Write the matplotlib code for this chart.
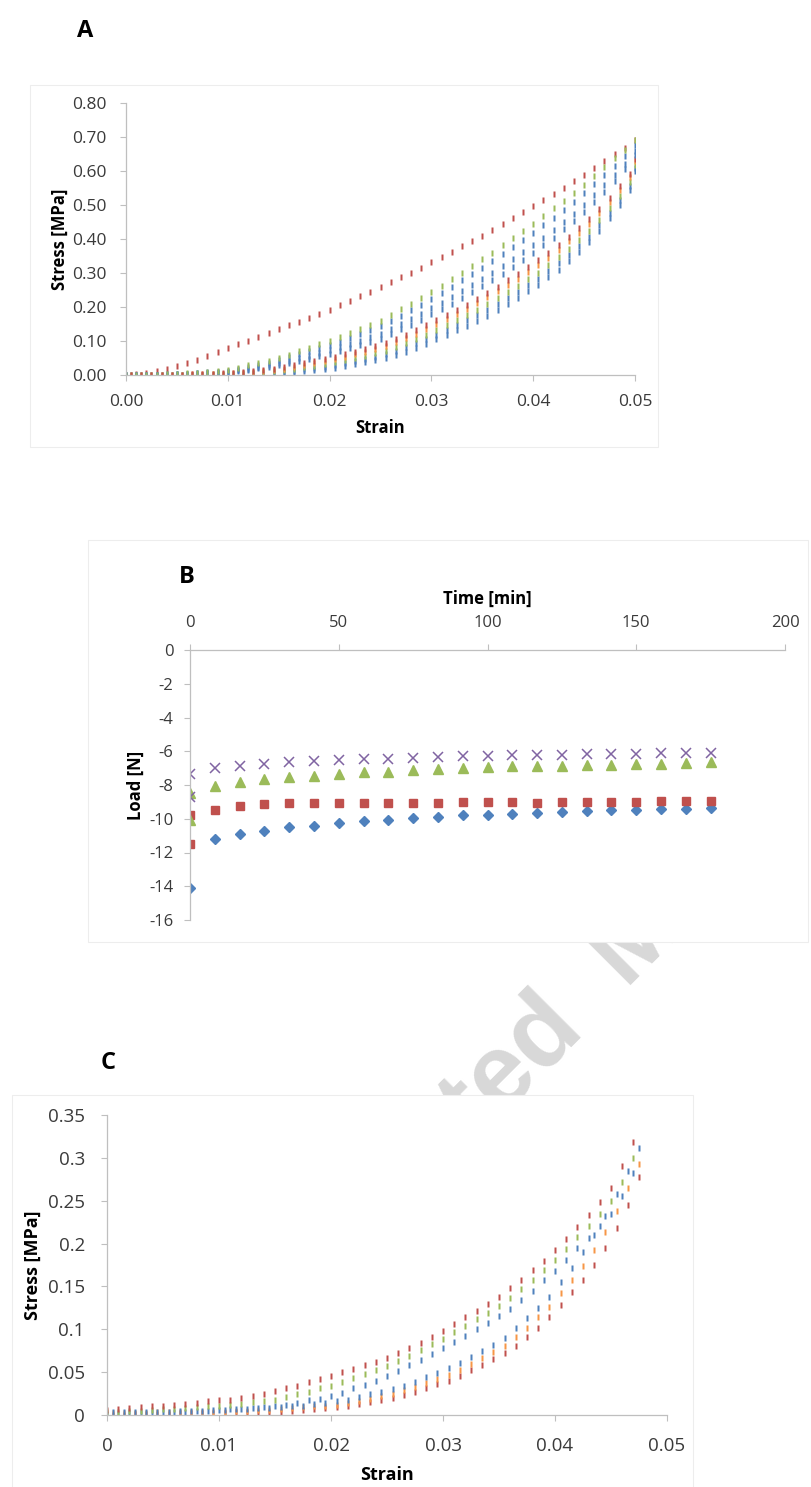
import matplotlib
matplotlib.use("Agg")
import matplotlib.pyplot as plt
from matplotlib.patches import Rectangle
from matplotlib.transforms import Bbox, TransformedBbox

plt.rcParams['font.family'] = ['Open Sans', 'DejaVu Sans']
plt.rcParams['axes.unicode_minus'] = False

BLUE = '#4F81BD'
RED = '#C0504D'
GREEN = '#9BBB59'
PURPLE = '#8064A2'
ORANGE = '#F79646'

# ---------------- panel A: cyclic stress-strain ----------------
strain_a = [0.000, 0.001, 0.002, 0.003, 0.004, 0.005, 0.006, 0.007, 0.008, 0.009,
            0.010, 0.011, 0.012, 0.013, 0.014, 0.015, 0.016, 0.017, 0.018, 0.019,
            0.020, 0.021, 0.022, 0.023, 0.024, 0.025, 0.026, 0.027, 0.028, 0.029,
            0.030, 0.031, 0.032, 0.033, 0.034, 0.035, 0.036, 0.037, 0.038, 0.039,
            0.040, 0.041, 0.042, 0.043, 0.044, 0.045, 0.046, 0.047, 0.048, 0.049, 0.050]
strain_a_unload = [0.0005, 0.0015, 0.0025, 0.0035, 0.0045, 0.0055, 0.0065, 0.0075, 0.0085, 0.0095,
                   0.0105, 0.0115, 0.0125, 0.0135, 0.0145, 0.0155, 0.0165, 0.0175, 0.0185, 0.0195,
                   0.0205, 0.0215, 0.0225, 0.0235, 0.0245, 0.0255, 0.0265, 0.0275, 0.0285, 0.0295,
                   0.0305, 0.0315, 0.0325, 0.0335, 0.0345, 0.0355, 0.0365, 0.0375, 0.0385, 0.0395,
                   0.0405, 0.0415, 0.0425, 0.0435, 0.0445, 0.0455, 0.0465, 0.0475, 0.0485, 0.0495, 0.0500]

a_first_load = [0.000, 0.003, 0.007, 0.012, 0.018, 0.026, 0.035, 0.045, 0.056, 0.067,
                0.079, 0.090, 0.101, 0.112, 0.123, 0.135, 0.146, 0.157, 0.168, 0.180,
                0.192, 0.205, 0.218, 0.231, 0.245, 0.259, 0.273, 0.287, 0.301, 0.316,
                0.331, 0.346, 0.362, 0.378, 0.394, 0.410, 0.427, 0.444, 0.461, 0.479,
                0.497, 0.515, 0.533, 0.551, 0.570, 0.589, 0.609, 0.629, 0.649, 0.669, 0.690]
a_load_green = [0.000, 0.000, 0.001, 0.001, 0.002, 0.003, 0.005, 0.007, 0.009, 0.012,
                0.015, 0.021, 0.028, 0.035, 0.042, 0.050, 0.060, 0.070, 0.080, 0.090,
                0.100, 0.111, 0.123, 0.135, 0.147, 0.160, 0.176, 0.193, 0.210, 0.227,
                0.245, 0.263, 0.282, 0.301, 0.320, 0.340, 0.360, 0.381, 0.402, 0.423,
                0.445, 0.467, 0.490, 0.513, 0.536, 0.560, 0.585, 0.611, 0.637, 0.663, 0.690]
a_load_blue1 = [0.000, 0.000, 0.001, 0.001, 0.002, 0.003, 0.004, 0.006, 0.008, 0.010,
                0.013, 0.018, 0.024, 0.030, 0.036, 0.043, 0.052, 0.061, 0.070, 0.079,
                0.088, 0.098, 0.109, 0.120, 0.132, 0.144, 0.158, 0.174, 0.191, 0.207,
                0.224, 0.241, 0.259, 0.278, 0.296, 0.315, 0.335, 0.355, 0.376, 0.396,
                0.418, 0.440, 0.463, 0.486, 0.510, 0.535, 0.561, 0.589, 0.616, 0.645, 0.677]
a_load_blue2 = [0.000, 0.000, 0.001, 0.001, 0.001, 0.002, 0.003, 0.005, 0.006, 0.008,
                0.010, 0.014, 0.019, 0.024, 0.029, 0.034, 0.042, 0.049, 0.057, 0.065,
                0.073, 0.082, 0.091, 0.101, 0.111, 0.122, 0.135, 0.150, 0.165, 0.180,
                0.196, 0.212, 0.229, 0.246, 0.264, 0.282, 0.301, 0.321, 0.341, 0.361,
                0.382, 0.404, 0.427, 0.451, 0.475, 0.501, 0.529, 0.559, 0.589, 0.622, 0.659]
a_load_blue3 = [0.000, 0.000, 0.001, 0.001, 0.001, 0.002, 0.003, 0.004, 0.005, 0.006,
                0.008, 0.011, 0.016, 0.020, 0.024, 0.028, 0.035, 0.042, 0.048, 0.055,
                0.063, 0.071, 0.079, 0.088, 0.098, 0.107, 0.120, 0.134, 0.148, 0.162,
                0.178, 0.193, 0.210, 0.226, 0.243, 0.261, 0.279, 0.298, 0.318, 0.338,
                0.359, 0.381, 0.404, 0.428, 0.453, 0.478, 0.508, 0.539, 0.571, 0.606, 0.647]
a_unload_red = [0.000, 0.000, 0.000, 0.000, 0.001, 0.001, 0.002, 0.003, 0.004, 0.005,
                0.006, 0.009, 0.012, 0.016, 0.019, 0.023, 0.029, 0.035, 0.040, 0.047,
                0.053, 0.061, 0.068, 0.077, 0.085, 0.094, 0.106, 0.119, 0.132, 0.146,
                0.161, 0.176, 0.191, 0.207, 0.224, 0.241, 0.259, 0.278, 0.297, 0.317,
                0.337, 0.359, 0.382, 0.407, 0.432, 0.458, 0.488, 0.521, 0.555, 0.592, 0.636]
a_unload_orange = [0.000, 0.000, 0.000, 0.000, 0.001, 0.001, 0.002, 0.002, 0.003, 0.004,
                   0.005, 0.007, 0.010, 0.013, 0.016, 0.019, 0.025, 0.030, 0.035, 0.041,
                   0.047, 0.054, 0.061, 0.069, 0.077, 0.085, 0.096, 0.109, 0.122, 0.135,
                   0.150, 0.164, 0.179, 0.195, 0.211, 0.228, 0.246, 0.264, 0.283, 0.303,
                   0.323, 0.345, 0.368, 0.393, 0.418, 0.444, 0.476, 0.509, 0.544, 0.583, 0.629]
a_unload_green = [0.000, 0.000, 0.000, 0.000, 0.000, 0.001, 0.001, 0.001, 0.002, 0.002,
                  0.003, 0.005, 0.007, 0.009, 0.012, 0.014, 0.018, 0.023, 0.027, 0.032,
                  0.038, 0.044, 0.050, 0.057, 0.065, 0.072, 0.082, 0.094, 0.106, 0.119,
                  0.133, 0.147, 0.161, 0.176, 0.192, 0.208, 0.226, 0.243, 0.262, 0.281,
                  0.301, 0.323, 0.346, 0.371, 0.397, 0.424, 0.456, 0.491, 0.527, 0.569, 0.618]
a_unload_blue1 = [0.000, 0.000, 0.000, 0.000, 0.000, 0.000, 0.001, 0.001, 0.001, 0.001,
                  0.002, 0.003, 0.005, 0.006, 0.008, 0.010, 0.013, 0.017, 0.021, 0.025,
                  0.030, 0.035, 0.041, 0.048, 0.054, 0.061, 0.071, 0.081, 0.093, 0.106,
                  0.119, 0.133, 0.146, 0.161, 0.176, 0.192, 0.209, 0.226, 0.245, 0.264,
                  0.283, 0.305, 0.328, 0.354, 0.379, 0.407, 0.440, 0.476, 0.514, 0.557, 0.609]
a_unload_blue2 = [0.000, 0.000, 0.000, 0.000, 0.000, 0.000, 0.000, 0.000, 0.000, 0.000,
                  0.000, 0.001, 0.002, 0.003, 0.004, 0.005, 0.008, 0.011, 0.014, 0.018,
                  0.022, 0.027, 0.032, 0.038, 0.044, 0.050, 0.059, 0.069, 0.080, 0.092,
                  0.105, 0.118, 0.131, 0.145, 0.160, 0.175, 0.192, 0.209, 0.227, 0.246,
                  0.265, 0.287, 0.310, 0.336, 0.362, 0.390, 0.424, 0.461, 0.500, 0.545, 0.600]

# ---------------- panel B: stress relaxation ----------------
time_b = [0, 8.33, 16.67, 25, 33.33, 41.67, 50, 58.33, 66.67, 75, 83.33,
          91.67, 100, 108.33, 116.67, 125, 133.33, 141.67, 150, 158.33, 166.67, 175]
load_blue = [-14.1, -11.2, -10.9, -10.7, -10.5, -10.4, -10.25, -10.15, -10.05, -9.95, -9.87,
             -9.8, -9.75, -9.7, -9.65, -9.6, -9.55, -9.5, -9.47, -9.43, -9.4, -9.35]
load_red = [-11.5, -9.5, -9.25, -9.1, -9.05, -9.05, -9.08, -9.05, -9.05, -9.05, -9.05,
            -9.02, -9.02, -9.02, -9.05, -9.03, -9.0, -8.98, -9.0, -8.97, -8.95, -8.92]
load_green = [-10.1, -8.05, -7.8, -7.65, -7.55, -7.45, -7.35, -7.25, -7.2, -7.1, -7.05,
              -7.0, -6.95, -6.9, -6.87, -6.85, -6.83, -6.8, -6.77, -6.73, -6.7, -6.65]
load_purple = [-8.7, -7.0, -6.87, -6.77, -6.65, -6.6, -6.52, -6.47, -6.43, -6.4, -6.35,
               -6.3, -6.28, -6.25, -6.22, -6.2, -6.18, -6.17, -6.15, -6.12, -6.1, -6.08]
# second reading logged at t = 0 for three of the samples
extra_t0_red = [-9.8]
extra_t0_green = [-8.5]
extra_t0_purple = [-7.35]

# ---------------- panel C: cyclic stress-strain ----------------
strain_c = [0.000, 0.001, 0.002, 0.003, 0.004, 0.005, 0.006, 0.007, 0.008, 0.009,
            0.010, 0.011, 0.012, 0.013, 0.014, 0.015, 0.016, 0.017, 0.018, 0.019,
            0.020, 0.021, 0.022, 0.023, 0.024, 0.025, 0.026, 0.027, 0.028, 0.029,
            0.030, 0.031, 0.032, 0.033, 0.034, 0.035, 0.036, 0.037, 0.038, 0.039,
            0.040, 0.041, 0.042, 0.043, 0.044, 0.045, 0.046, 0.047]
strain_c_unload = [0.0005, 0.0015, 0.0025, 0.0035, 0.0045, 0.0055, 0.0065, 0.0075, 0.0085, 0.0095,
                   0.0105, 0.0115, 0.0125, 0.0135, 0.0145, 0.0155, 0.0165, 0.0175, 0.0185, 0.0195,
                   0.0205, 0.0215, 0.0225, 0.0235, 0.0245, 0.0255, 0.0265, 0.0275, 0.0285, 0.0295,
                   0.0305, 0.0315, 0.0325, 0.0335, 0.0345, 0.0355, 0.0365, 0.0375, 0.0385, 0.0395,
                   0.0405, 0.0415, 0.0425, 0.0435, 0.0445, 0.0455, 0.0465, 0.0475]
c_load_red = [0.006, 0.007, 0.008, 0.009, 0.010, 0.011, 0.012, 0.013, 0.014, 0.016,
              0.017, 0.018, 0.020, 0.022, 0.024, 0.028, 0.031, 0.034, 0.038, 0.042,
              0.046, 0.050, 0.054, 0.058, 0.062, 0.066, 0.072, 0.078, 0.084, 0.091,
              0.098, 0.106, 0.114, 0.121, 0.129, 0.138, 0.148, 0.158, 0.169, 0.180,
              0.192, 0.205, 0.219, 0.233, 0.248, 0.265, 0.290, 0.318]
c_load_green = [0.004, 0.004, 0.005, 0.005, 0.006, 0.007, 0.007, 0.008, 0.009, 0.010,
                0.011, 0.012, 0.013, 0.015, 0.016, 0.018, 0.021, 0.024, 0.027, 0.031,
                0.034, 0.039, 0.043, 0.048, 0.052, 0.057, 0.063, 0.069, 0.076, 0.083,
                0.089, 0.097, 0.104, 0.112, 0.119, 0.127, 0.137, 0.147, 0.158, 0.169,
                0.181, 0.194, 0.208, 0.221, 0.235, 0.250, 0.272, 0.300]
c_load_blue = [0.001, 0.001, 0.002, 0.002, 0.003, 0.003, 0.004, 0.004, 0.005, 0.005,
               0.006, 0.007, 0.007, 0.008, 0.009, 0.010, 0.012, 0.014, 0.017, 0.019,
               0.022, 0.026, 0.031, 0.035, 0.040, 0.045, 0.051, 0.058, 0.064, 0.071,
               0.078, 0.085, 0.092, 0.100, 0.107, 0.115, 0.124, 0.134, 0.145, 0.157,
               0.168, 0.181, 0.195, 0.207, 0.221, 0.235, 0.256, 0.282]
c_unload_blue = [0.003, 0.003, 0.003, 0.004, 0.004, 0.004, 0.005, 0.005, 0.005, 0.006,
                 0.006, 0.007, 0.007, 0.008, 0.008, 0.009, 0.010, 0.011, 0.013, 0.014,
                 0.016, 0.018, 0.021, 0.024, 0.027, 0.030, 0.034, 0.039, 0.044, 0.049,
                 0.055, 0.061, 0.068, 0.075, 0.082, 0.090, 0.101, 0.113, 0.125, 0.138,
                 0.155, 0.172, 0.190, 0.210, 0.232, 0.258, 0.285, 0.312]
c_unload_orange = [0.002, 0.002, 0.002, 0.002, 0.003, 0.003, 0.003, 0.003, 0.004, 0.004,
                   0.004, 0.005, 0.005, 0.006, 0.006, 0.007, 0.008, 0.009, 0.010, 0.011,
                   0.012, 0.014, 0.016, 0.019, 0.022, 0.025, 0.029, 0.033, 0.037, 0.042,
                   0.047, 0.053, 0.059, 0.066, 0.073, 0.081, 0.091, 0.102, 0.114, 0.126,
                   0.142, 0.158, 0.174, 0.193, 0.214, 0.238, 0.265, 0.293]
c_unload_red = [0.000, 0.000, 0.001, 0.001, 0.001, 0.001, 0.002, 0.002, 0.002, 0.002,
                0.002, 0.003, 0.003, 0.004, 0.004, 0.004, 0.005, 0.006, 0.007, 0.008,
                0.009, 0.011, 0.013, 0.015, 0.017, 0.020, 0.023, 0.027, 0.031, 0.036,
                0.040, 0.046, 0.052, 0.058, 0.065, 0.072, 0.081, 0.091, 0.102, 0.114,
                0.128, 0.143, 0.158, 0.175, 0.195, 0.218, 0.245, 0.278]

W, H = 811, 1487
fig = plt.figure(figsize=(W / 100, H / 100), dpi=100)


def fbox(x0, y0, x1, y1):
    # pixel box (top-left origin) -> figure fraction rect
    return [x0 / W, 1 - y1 / H, (x1 - x0) / W, (y1 - y0) / H]


def frame(x0, y0, x1, y1):
    r = Rectangle((x0 / W, 1 - y1 / H), (x1 - x0) / W, (y1 - y0) / H,
                  transform=fig.transFigure, facecolor='white',
                  edgecolor='#EDEDED', lw=0.8, zorder=0.5)
    fig.add_artist(r)


frame(30, 85, 658, 447)
frame(88, 540, 808, 942)
frame(12, 1095, 693, 1500)

# faint watermark, only seen in the gap between B and C
gap = TransformedBbox(Bbox([[0, 1 - 1095 / H], [1, 1 - 943 / H]]), fig.transFigure)
wm = dict(rotation=45, rotation_mode='anchor', va='baseline', fontsize=74,
          fontweight='bold', family='Liberation Sans', color='#D8D8D8', zorder=0.2)
for s, ha in [('Accepted', 'right'), ('  M', 'left')]:
    t = fig.text(586 / W, 1 - 1030 / H, s, ha=ha, **wm)
    t.set_clip_box(gap)
    t.set_clip_on(True)

GRID = '#BFBFBF'
TXT = '#3A3A3A'
dash = [(-0.45, -1), (0.45, -1), (0.45, 1), (-0.45, 1), (-0.45, -1)]


def style(ax, size):
    ax.set_facecolor('none')
    ax.set_zorder(1)
    for s in ['top', 'right']:
        ax.spines[s].set_visible(False)
    for s in ['left', 'bottom']:
        ax.spines[s].set_color(GRID)
        ax.spines[s].set_linewidth(0.9)
    ax.tick_params(direction='out', length=4, width=0.8, color=GRID,
                   labelsize=size, labelcolor=TXT)


def dots(ax, x, y, color, ms=4.4):
    ax.plot(x, y, ls='none', marker=dash, ms=ms, mfc=color, mec='none')


# ---- A ----
axA = fig.add_axes(fbox(126, 103, 635, 375))
style(axA, 12.5)
dots(axA, strain_a, a_first_load, RED)
dots(axA, strain_a_unload, a_unload_blue2, BLUE)
dots(axA, strain_a_unload, a_unload_blue1, BLUE)
dots(axA, strain_a_unload, a_unload_green, GREEN)
dots(axA, strain_a_unload, a_unload_orange, ORANGE)
dots(axA, strain_a_unload, a_unload_red, RED)
dots(axA, strain_a, a_load_blue3, BLUE)
dots(axA, strain_a, a_load_blue2, BLUE)
dots(axA, strain_a, a_load_blue1, BLUE)
dots(axA, strain_a, a_load_green, GREEN)
axA.set_xlim(0, 0.05)
axA.set_ylim(0, 0.8)
axA.set_xticks([0, 0.01, 0.02, 0.03, 0.04, 0.05])
axA.set_xticklabels(['0.00', '0.01', '0.02', '0.03', '0.04', '0.05'])
axA.set_yticks([0, 0.1, 0.2, 0.3, 0.4, 0.5, 0.6, 0.7, 0.8])
axA.set_yticklabels(['%.2f' % v for v in axA.get_yticks()])
axA.tick_params(axis='x', pad=10)
axA.tick_params(axis='y', pad=10)
axA.set_xlabel('Strain', fontsize=12, fontweight='bold', labelpad=6)
axA.set_ylabel('Stress [MPa]', fontsize=12, fontweight='bold', labelpad=2)
fig.text(85 / W, 1 - 31 / H, 'A', fontsize=17, fontweight='bold', ha='center', va='center')

# ---- B ----
axB = fig.add_axes(fbox(190, 650, 785, 920))
style(axB, 12)
axB.spines['bottom'].set_visible(False)
axB.spines['top'].set_visible(True)
axB.spines['top'].set_color(GRID)
axB.spines['top'].set_linewidth(0.9)
axB.xaxis.set_ticks_position('top')
axB.xaxis.set_label_position('top')
axB.plot(time_b, load_blue, ls='none', marker='D', ms=5.5, mfc=BLUE, mec=BLUE)
axB.plot(time_b, load_red, ls='none', marker='s', ms=6.2, mfc=RED, mec=RED)
axB.plot([0], extra_t0_red, ls='none', marker='s', ms=6.2, mfc=RED, mec=RED)
axB.plot(time_b, load_green, ls='none', marker='^', ms=6.5, mfc=GREEN, mec=GREEN)
axB.plot([0], extra_t0_green, ls='none', marker='^', ms=6.5, mfc=GREEN, mec=GREEN)
axB.plot(time_b, load_purple, ls='none', marker='x', ms=6.5, mew=1.1, color=PURPLE)
axB.plot([0], extra_t0_purple, ls='none', marker='x', ms=6.5, mew=1.1, color=PURPLE)
axB.set_xlim(0, 200)
axB.set_ylim(-16, 0)
axB.set_xticks([0, 50, 100, 150, 200])
axB.set_yticks([0, -2, -4, -6, -8, -10, -12, -14, -16])
axB.tick_params(axis='x', pad=10)
axB.tick_params(axis='y', pad=8)
axB.set_xlabel('Time [min]', fontsize=12, fontweight='bold', labelpad=8)
axB.set_ylabel('Load [N]', fontsize=12, fontweight='bold', labelpad=3)
fig.text(187 / W, 1 - 577 / H, 'B', fontsize=17, fontweight='bold', ha='center', va='center')

# ---- C ----
axC = fig.add_axes(fbox(107, 1115, 667, 1415))
style(axC, 13.5)
dots(axC, strain_c_unload, c_unload_red, RED)
dots(axC, strain_c_unload, c_unload_orange, ORANGE)
dots(axC, strain_c_unload, c_unload_blue, BLUE)
dots(axC, strain_c, c_load_blue, BLUE)
dots(axC, strain_c, c_load_green, GREEN)
dots(axC, strain_c, c_load_red, RED)
axC.set_xlim(0, 0.05)
axC.set_ylim(0, 0.35)
axC.set_xticks([0, 0.01, 0.02, 0.03, 0.04, 0.05])
axC.set_xticklabels(['0', '0.01', '0.02', '0.03', '0.04', '0.05'])
axC.set_yticks([0, 0.05, 0.1, 0.15, 0.2, 0.25, 0.3, 0.35])
axC.set_yticklabels(['0', '0.05', '0.1', '0.15', '0.2', '0.25', '0.3', '0.35'])
axC.tick_params(axis='x', pad=12)
axC.tick_params(axis='y', pad=12)
axC.set_xlabel('Strain', fontsize=13, fontweight='bold', labelpad=8)
axC.set_ylabel('Stress [MPa]', fontsize=13, fontweight='bold', labelpad=4)
fig.text(108 / W, 1 - 1063 / H, 'C', fontsize=17, fontweight='bold', ha='center', va='center')

fig.savefig('out.png', dpi=100, facecolor='white')
